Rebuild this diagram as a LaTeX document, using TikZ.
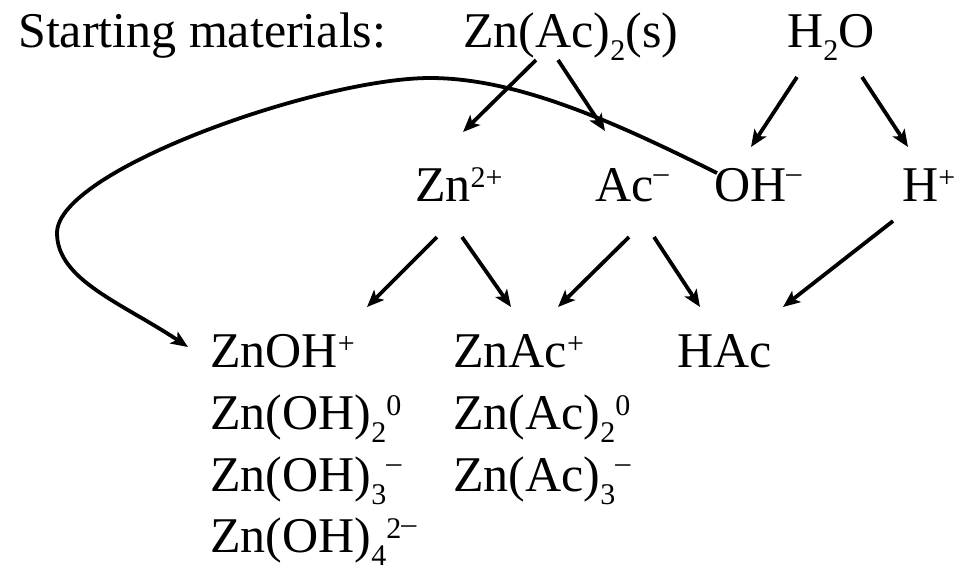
\documentclass[tikz,border=0pt]{standalone}
\usepackage{fontspec}
\setmainfont{Liberation Serif}
\usetikzlibrary{calc,arrows.meta}
\newcommand{\chemsize}{\fontsize{50}{60}\selectfont}
\newcommand{\chup}[1]{\raisebox{14pt}{\fontsize{30}{30}\selectfont #1}}
\newcommand{\chdn}[1]{\raisebox{-13pt}{\fontsize{30}{30}\selectfont #1}}
\newcommand{\chmin}{\raisebox{19pt}{\fontsize{30}{30}\selectfont –}}

\begin{document}
\begin{tikzpicture}[x=1pt,y=-1pt,
  chem/.style={font=\chemsize,anchor=base west,inner sep=0pt},
  arr/.style={-{Stealth[length=17pt,width=14pt,inset=4pt]},line width=3.8pt}]
  \useasboundingbox (0,0) rectangle (963,574);
  % starting materials
  \node[chem] (title) at (18,47) {Starting materials:};
  \node[chem] (znacs) at (463,47) {Zn(Ac)\chdn{2}(s)};
  \node[chem] (water) at (787,47) {H\chdn{2}O};
  % ions
  \node[chem] (zn) at (415,201) {Zn\chup{2+}};
  \node[chem] (ac) at (595,201) {Ac\chmin};
  \node[chem] (oh) at (714,201) {OH\chmin};
  \node[chem] (hp) at (902,201) {H\chup{+}};
  % products
  \node[chem] (znoh)  at (210,367) {ZnOH\chup{+}};
  \node[chem] (znoh2) at (210,429) {Zn(OH)\chdn{2}\chup{0}};
  \node[chem] (znoh3) at (210,491) {Zn(OH)\chdn{3}\chmin};
  \node[chem] (znoh4) at (210,552) {Zn(OH)\chdn{4}\chup{2}\chmin};
  \node[chem] (znac)  at (453,367) {ZnAc\chup{+}};
  \node[chem] (znac2) at (453,429) {Zn(Ac)\chdn{2}\chup{0}};
  \node[chem] (znac3) at (453,491) {Zn(Ac)\chdn{3}\chmin};
  \node[chem] (hac)   at (677,367) {HAc};
  % dissociation
  \draw[arr] ($(znacs.base west)+(73,13)$) -- ($(zn.base west)+(48,-69)$);
  \draw[arr] ($(znacs.base west)+(95,13)$) -- ($(ac.base west)+(10,-70)$);
  \draw[arr] ($(water.base west)+(10,30)$) -- ($(oh.base west)+(37,-54)$);
  \draw[arr] ($(water.base west)+(75,30)$) -- ($(hp.base west)+(6,-54)$);
  % complexes
  \draw[arr] ($(zn.base west)+(22,36)$) -- ($(znoh.base west)+(157,-60)$);
  \draw[arr] ($(zn.base west)+(47,36)$) -- ($(znac.base west)+(58,-60)$);
  \draw[arr] ($(ac.base west)+(34,36)$) -- ($(znac.base west)+(105,-60)$);
  \draw[arr] ($(ac.base west)+(59,36)$) -- ($(hac.base west)+(23,-60)$);
  \draw[arr] ($(hp.base west)+(-9,20)$) -- ($(hac.base west)+(106,-60)$);
  % hydroxide loop
  \draw[arr] ($(oh.base west)+(3,-28)$) .. controls (620,125) and (520,78) .. (430,78)
    .. controls (320,78) and (57,170) .. (57,233)
    .. controls (57,280) and (122,303) .. ($(znoh.base west)+(-22,-20)$);
\end{tikzpicture}
\end{document}
